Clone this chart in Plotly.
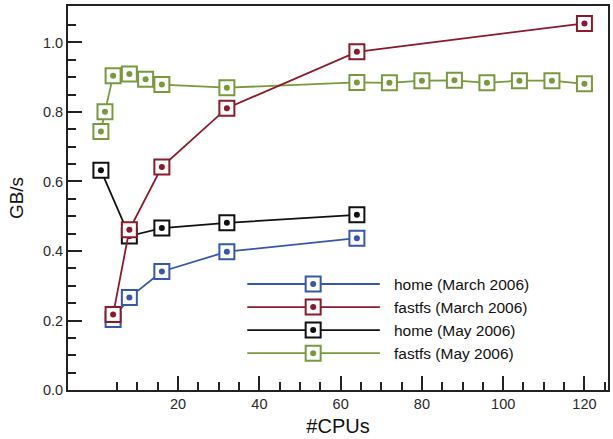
import plotly.graph_objects as go

# Aggregate I/O bandwidth vs. number of CPUs
home_mar_cpus = [4, 8, 16, 32, 64]
home_mar_gbs = [0.203, 0.266, 0.341, 0.398, 0.437]

fastfs_mar_cpus = [4, 8, 16, 32, 64, 120]
fastfs_mar_gbs = [0.217, 0.461, 0.642, 0.811, 0.973, 1.055]

home_may_cpus = [1, 8, 16, 32, 64]
home_may_gbs = [0.632, 0.443, 0.466, 0.481, 0.504]

fastfs_may_cpus = [1, 2, 4, 8, 12, 16, 32, 64, 72, 80, 88, 96, 104, 112, 120]
fastfs_may_gbs = [0.744, 0.801, 0.904, 0.909, 0.894, 0.879, 0.870,
                  0.885, 0.884, 0.890, 0.891, 0.884, 0.890, 0.890, 0.881]

series_names = ["home (March 2006)", "fastfs (March 2006)",
                "home (May 2006)", "fastfs (May 2006)"]

x_major = [20, 40, 60, 80, 100, 120]
y_major = [0.0, 0.2, 0.4, 0.6, 0.8, 1.0]

BLUE = "#3658ab"
RED = "#8a1a2c"
BLACK = "#111111"
GREEN = "#789a3c"
FONT = "Liberation Sans, Arial, sans-serif"

series = {
    "home (March 2006)": (home_mar_cpus, home_mar_gbs, BLUE),
    "fastfs (March 2006)": (fastfs_mar_cpus, fastfs_mar_gbs, RED),
    "home (May 2006)": (home_may_cpus, home_may_gbs, BLACK),
    "fastfs (May 2006)": (fastfs_may_cpus, fastfs_may_gbs, GREEN),
}
draw_order = ["fastfs (May 2006)", "home (March 2006)",
              "home (May 2006)", "fastfs (March 2006)"]

fig = go.Figure()


def add_boxed_series(fig, xs, ys, color, xaxis="x", yaxis="y", lines=True):
    # line + white square with a coloured border, then a dot in the middle
    fig.add_trace(go.Scatter(
        x=xs, y=ys, mode="lines+markers" if lines else "markers",
        xaxis=xaxis, yaxis=yaxis,
        line=dict(color=color, width=1.8),
        marker=dict(symbol="square", size=15, color="white",
                    line=dict(color=color, width=2)),
        showlegend=False, hoverinfo="skip"))
    fig.add_trace(go.Scatter(
        x=xs, y=ys, mode="markers", xaxis=xaxis, yaxis=yaxis,
        marker=dict(symbol="circle", size=6, color=color),
        showlegend=False, hoverinfo="skip"))


for name in draw_order:
    xs, ys, color = series[name]
    add_boxed_series(fig, xs, ys, color)

# Legend key drawn on an overlaid unit axis
leg_x0, leg_xm, leg_x1, leg_tx = 0.332, 0.454, 0.5775, 0.5996
leg_rows = [0.276, 0.216, 0.156, 0.096]
for name, ly in zip(series_names, leg_rows):
    color = series[name][2]
    fig.add_trace(go.Scatter(
        x=[leg_x0, leg_x1], y=[ly, ly], mode="lines", xaxis="x2", yaxis="y2",
        line=dict(color=color, width=1.8), showlegend=False, hoverinfo="skip"))
    add_boxed_series(fig, [leg_xm], [ly], color, "x2", "y2", lines=False)
    fig.add_annotation(x=leg_tx, y=ly, xref="paper", yref="paper",
                       text=name, showarrow=False, xanchor="left",
                       yanchor="middle",
                       font=dict(family=FONT, size=15.5, color="#111111"))

x_minor = [v for v in range(5, 126, 5) if v % 20 != 0]
y_minor = [round(0.05 * k, 2) for k in range(1, 22) if k % 4 != 0]

axis_common = dict(
    showgrid=False, zeroline=False, showline=True, linecolor="#222222",
    linewidth=2, mirror=True, ticks="inside", ticklen=14, tickwidth=2,
    tickcolor="#222222",
    tickfont=dict(family=FONT, size=14.5, color="#2a2a2a"),
)

fig.update_layout(
    width=613, height=439,
    margin=dict(l=68, r=3, t=6, b=49),
    paper_bgcolor="white", plot_bgcolor="white",
    showlegend=False,
    xaxis=dict(
        **axis_common, range=[-7.1, 125.8], tickmode="array",
        tickvals=x_major,
        minor=dict(tickmode="array", tickvals=x_minor, ticks="inside",
                   ticklen=8, tickwidth=1.5, tickcolor="#222222"),
        title=dict(text="#CPUs", font=dict(family=FONT, size=20,
                                           color="#111111"), standoff=8),
    ),
    yaxis=dict(
        **axis_common, range=[0, 1.105], tickmode="array",
        tickvals=y_major, tickformat=".1f",
        minor=dict(tickmode="array", tickvals=y_minor, ticks="inside",
                   ticklen=8, tickwidth=1.5, tickcolor="#222222"),
        title=dict(text="GB/s", font=dict(family=FONT, size=19,
                                          color="#111111"), standoff=14),
    ),
    xaxis2=dict(overlaying="x", range=[0, 1], visible=False, fixedrange=True),
    yaxis2=dict(overlaying="y", range=[0, 1], visible=False, fixedrange=True),
)

fig.write_html("out.html")
